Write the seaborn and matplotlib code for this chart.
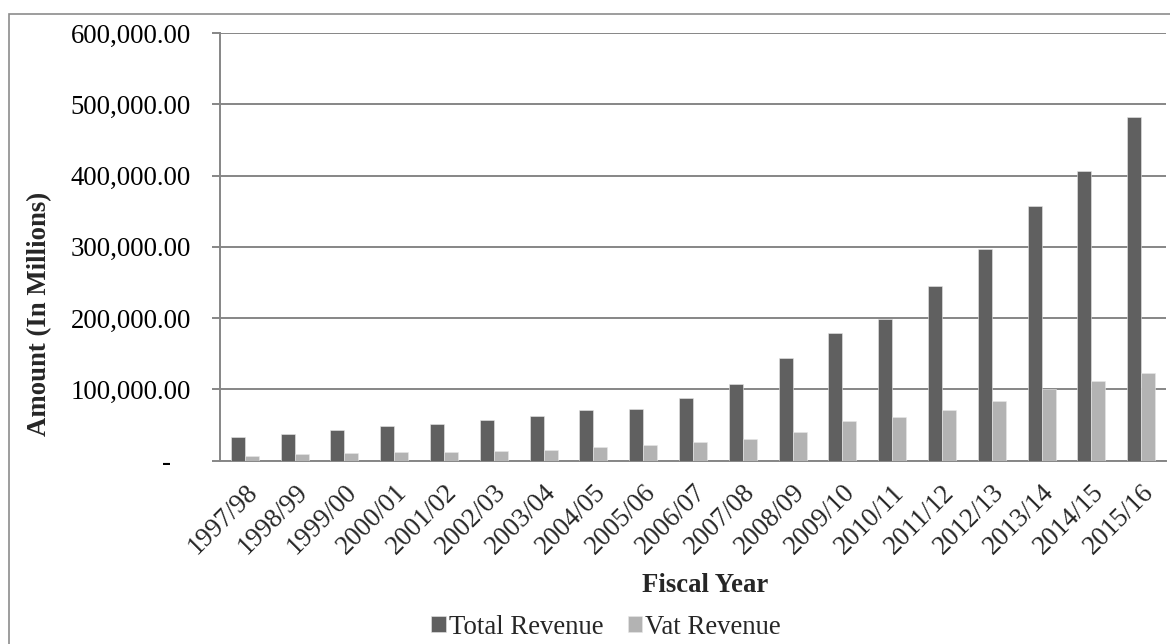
import matplotlib
matplotlib.use("Agg")
import matplotlib.pyplot as plt
import seaborn as sns
import pandas as pd
from matplotlib.patches import Rectangle
from matplotlib.ticker import FixedLocator, FixedFormatter

years = ["1997/98", "1998/99", "1999/00", "2000/01", "2001/02", "2002/03", "2003/04",
         "2004/05", "2005/06", "2006/07", "2007/08", "2008/09", "2009/10", "2010/11",
         "2011/12", "2012/13", "2013/14", "2014/15", "2015/16"]
total_revenue = [32800, 37000, 42600, 48700, 50600, 56300, 61900, 70300, 71700, 87600,
                 107300, 143500, 178600, 198300, 244700, 296200, 356700, 406500, 482400]
vat_revenue = [6500, 8900, 10300, 12100, 12300, 13100, 14500, 18300, 21500, 25700,
               29500, 39400, 54800, 61300, 70500, 83200, 101000, 112000, 122400]
series_names = ["Total Revenue", "Vat Revenue"]
y_ticks = [0, 100000, 200000, 300000, 400000, 500000, 600000]
y_tick_labels = ["-   ", "100,000.00", "200,000.00", "300,000.00", "400,000.00",
                 "500,000.00", "600,000.00"]

df = pd.DataFrame({
    "Fiscal Year": years * 2,
    "Amount": total_revenue + vat_revenue,
    "Series": [series_names[0]] * len(years) + [series_names[1]] * len(years),
})

sns.set_style("white")
plt.rcParams["font.family"] = ["Liberation Serif", "DejaVu Serif"]

W, H, DPI = 1170, 644, 100
fig = plt.figure(figsize=(W / DPI, H / DPI), dpi=DPI)
ax = fig.add_axes([220 / W, 1 - 460.5 / H, 946 / W, 427.5 / H])

# outer chart frame (cropped on right and bottom)
fig.patches.append(Rectangle((9 / W, -0.2), 1.2, (1 - 14 / H) + 0.2,
                             transform=fig.transFigure, fill=False,
                             edgecolor="#8c8c8c", linewidth=1.2, zorder=0))

sns.barplot(data=df, x="Fiscal Year", y="Amount", hue="Series",
            palette=["#606060", "#b3b3b3"], width=0.5625, gap=0,
            edgecolor="#e8e8e8", linewidth=0.4, ax=ax, zorder=3, legend=True)

fs = 19.3
ax.set_ylim(0, 600000)
ax.set_xlim(-0.5, len(years) - 0.5)
ax.yaxis.set_major_locator(FixedLocator(y_ticks))
ax.yaxis.set_major_formatter(FixedFormatter(y_tick_labels))
ax.grid(axis="y", color="#868686", linewidth=1.4, zorder=0)
ax.set_axisbelow(True)
for s in ["top", "right"]:
    ax.spines[s].set_visible(False)
for s in ["left", "bottom"]:
    ax.spines[s].set_color("#868686")
    ax.spines[s].set_linewidth(1.4)

ax.tick_params(axis="y", which="major", length=6, width=1.4, color="#868686",
               direction="out", pad=15, labelsize=fs, left=True)
ax.tick_params(axis="x", which="major", length=0, pad=14, labelsize=fs)
for lbl in ax.get_yticklabels():
    lbl.set_color("black")
plt.setp(ax.get_xticklabels(), rotation=45, ha="right", rotation_mode="anchor")

ax.set_ylabel("Amount (In Millions)", fontsize=fs, fontweight="bold", va="center")
ax.yaxis.set_label_coords((40 - 220) / 946, (460.5 - 314) / 427.5)
ax.set_xlabel("Fiscal Year", fontsize=fs, fontweight="bold", va="center")
ax.xaxis.set_label_coords((705 - 220) / 946, (460.5 - 585) / 427.5)

handles, labels = ax.get_legend_handles_labels()
if ax.legend_:
    ax.legend_.remove()
fig.legend(handles, labels, loc="center", bbox_to_anchor=(606 / W, 1 - 627 / H),
           ncol=2, frameon=False, fontsize=fs, handlelength=0.55, handleheight=0.55,
           handletextpad=0.1, columnspacing=0.9, borderaxespad=0)

fig.savefig("out.png", dpi=DPI)
